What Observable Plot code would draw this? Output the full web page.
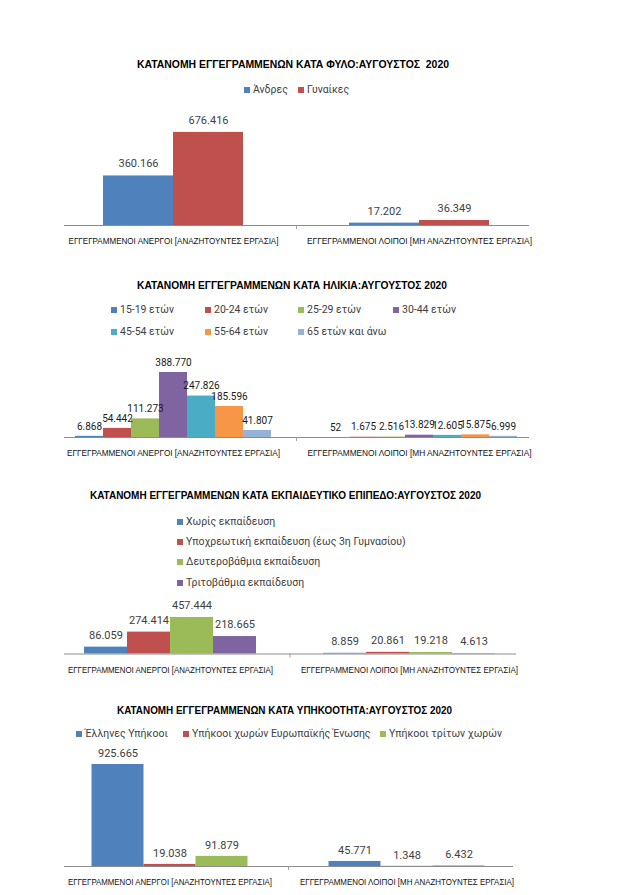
<!DOCTYPE html>
<html><head><meta charset="utf-8">
<script src="https://cdn.jsdelivr.net/npm/d3@7"></script>
<script src="https://cdn.jsdelivr.net/npm/@observablehq/plot@0.6"></script>
<style>
body{margin:0;background:#fff;}
#page{position:relative;width:631px;height:895px;overflow:hidden;font-family:Roboto,"Liberation Sans",sans-serif;}
.title{position:absolute;white-space:pre;font-family:"Liberation Sans",Arial,sans-serif;font-weight:bold;font-size:10.5px;color:#000;line-height:12px;transform-origin:0 50%;}
.leg{position:absolute;white-space:nowrap;font-size:10.5px;color:#404040;line-height:12px;display:flex;align-items:center;}
.sw{display:inline-block;width:6px;height:6px;margin-right:3px;}
.chart{position:absolute;left:0;}
</style></head><body><div id="page"></div>
<script>
// ---------- DATA ----------
const categories = ["ΕΓΓΕΓΡΑΜΜΕΝΟΙ ΑΝΕΡΓΟΙ [ΑΝΑΖΗΤΟΥΝΤΕΣ ΕΡΓΑΣΙΑ]", "ΕΓΓΕΓΡΑΜΜΕΝΟΙ ΛΟΙΠΟΙ [ΜΗ ΑΝΑΖΗΤΟΥΝΤΕΣ ΕΡΓΑΣΙΑ]"];

const titleGender = "ΚΑΤΑΝΟΜΗ ΕΓΓΕΓΡΑΜΜΕΝΩΝ ΚΑΤΑ ΦΥΛΟ:ΑΥΓΟΥΣΤΟΣ  2020";
const genderSeries = ["Άνδρες", "Γυναίκες"];
const genderUnemployed = [360166, 676416];
const genderOther = [17202, 36349];

const titleAge = "ΚΑΤΑΝΟΜΗ ΕΓΓΕΓΡΑΜΜΕΝΩΝ ΚΑΤΑ ΗΛΙΚΙΑ:ΑΥΓΟΥΣΤΟΣ 2020";
const ageSeries = ["15-19 ετών", "20-24 ετών", "25-29 ετών", "30-44 ετών", "45-54 ετών", "55-64 ετών", "65 ετών και άνω"];
const ageUnemployed = [6868, 54442, 111273, 388770, 247826, 185596, 41807];
const ageOther = [52, 1675, 2516, 13829, 12605, 15875, 6999];

const titleEdu = "ΚΑΤΑΝΟΜΗ ΕΓΓΕΓΡΑΜΜΕΝΩΝ ΚΑΤΑ ΕΚΠΑΙΔΕΥΤΙΚΟ ΕΠΙΠΕΔΟ:ΑΥΓΟΥΣΤΟΣ 2020";
const eduSeries = ["Χωρίς εκπαίδευση", "Υποχρεωτική εκπαίδευση (έως 3η Γυμνασίου)", "Δευτεροβάθμια εκπαίδευση", "Τριτοβάθμια εκπαίδευση"];
const eduUnemployed = [86059, 274414, 457444, 218665];
const eduOther = [8859, 20861, 19218, 4613];

const titleCit = "ΚΑΤΑΝΟΜΗ ΕΓΓΕΓΡΑΜΜΕΝΩΝ ΚΑΤΑ ΥΠΗΚΟΟΤΗΤΑ:ΑΥΓΟΥΣΤΟΣ 2020";
const citSeries = ["Έλληνες Υπήκοοι", "Υπήκοοι χωρών Ευρωπαϊκής Ένωσης", "Υπήκοοι τρίτων χωρών"];
const citUnemployed = [925665, 19038, 91879];
const citOther = [45771, 1348, 6432];

// ---------- STYLE / LAYOUT ----------
const palette = ["#4F81BD", "#C0504D", "#9BBB59", "#8064A2", "#4BACC6", "#F79646", "#95B3D7"];
const fmt = d3.formatLocale({decimal: ",", thousands: ".", grouping: [3], currency: ["", "€"]}).format(",d");

const charts = [
  {title: titleGender, series: genderSeries, a: genderUnemployed, b: genderOther,
   L: {titleY: 64, titleC: 293, titleW: 312,
       legend: [[244, 90], [298, 90]],
       svgTop: 99, marginTop: 10, frameH: 116, ymax: 843000, marginBottom: 32,
       left: 64, right: 528, fxPad: 0.114, xPad: 0.546,
       labelDy: -12, labelSize: 11, labelColor: "#404040", catW: [210, 225], catSize: 9.5}},
  {title: titleAge, series: ageSeries, a: ageUnemployed, b: ageOther,
   L: {titleY: 285, titleC: 292, titleW: 310,
       legend: [[111, 310], [205, 310], [298, 310], [393, 310], [111, 332], [205, 332], [298, 332]],
       svgTop: 345, marginTop: 5, frameH: 87, ymax: 520300, marginBottom: 32,
       left: 64, right: 528, fxPad: 0.114, xPad: 0.26,
       labelDy: -10, labelSize: 10, labelColor: "#1a1a1a", catW: [213, 224], catSize: 9.5}},
  {title: titleEdu, series: eduSeries, a: eduUnemployed, b: eduOther,
   L: {titleY: 495, titleC: 285.5, titleW: 391,
       legend: [[177, 522], [177, 542], [177, 562], [177, 583]],
       svgTop: 590, marginTop: 5, frameH: 58.5, ymax: 733000, marginBottom: 32,
       left: 64, right: 515, fxPad: 0.113, xPad: 0.437,
       labelDy: -12, labelSize: 11, labelColor: "#404040", catW: [205, 217], catSize: 9.5}},
  {title: titleCit, series: citSeries, a: citUnemployed, b: citOther,
   L: {titleY: 710, titleC: 284.5, titleW: 335,
       legend: [[76, 734], [183, 734], [380, 734]],
       svgTop: 740, marginTop: 5, frameH: 121, ymax: 1098000, marginBottom: 29,
       left: 63.5, right: 513, fxPad: 0.111, xPad: 0.496,
       labelDy: -11, labelSize: 11, labelColor: "#404040", catW: [204, 214], catSize: 9.5}}
];

const page = document.getElementById("page");

for (const c of charts) {
  const L = c.L;
  const data = [];
  c.series.forEach((s, i) => {
    data.push({cat: categories[0], s, v: c.a[i]});
    data.push({cat: categories[1], s, v: c.b[i]});
  });
  const colors = palette.slice(0, c.series.length);

  const plot = Plot.plot({
    width: 631,
    height: L.marginTop + L.frameH + L.marginBottom,
    marginLeft: L.left, marginRight: 631 - L.right,
    marginTop: L.marginTop, marginBottom: L.marginBottom,
    style: {fontFamily: "'Liberation Sans', Arial, sans-serif", fontSize: L.catSize + "px", color: "#111", background: "transparent", overflow: "visible"},
    fx: {domain: categories, paddingInner: L.fxPad, paddingOuter: 0, label: null, axis: "bottom", tickSize: 0, tickPadding: 12},
    x: {domain: c.series, paddingInner: 0, paddingOuter: L.xPad, axis: null},
    y: {domain: [0, L.ymax], axis: null},
    color: {domain: c.series, range: colors},
    marks: [
      Plot.barY(data, {fx: "cat", x: "s", y: "v", fill: "s"}),
      Plot.text(data, {fx: "cat", x: "s", y: "v", text: d => fmt(d.v), dy: L.labelDy,
        fontSize: L.labelSize, fill: L.labelColor, fontFamily: "Roboto, sans-serif"}),
      Plot.frame({anchor: "bottom", facet: "super", stroke: "#8c8c8c"}),
      Plot.ruleX([0], {x: null, insetTop: L.frameH, insetBottom: -4, facet: "super", stroke: "#a0a0a0"})
    ]
  });
  plot.classList.add("chart");
  plot.style.top = L.svgTop + "px";
  plot.querySelectorAll('g[aria-label="fx-axis tick label"] text').forEach((t, i) => {
    t.setAttribute("textLength", L.catW[i]);
    t.setAttribute("lengthAdjust", "spacingAndGlyphs");
  });
  page.appendChild(plot);

  // title
  const t = document.createElement("div");
  t.className = "title";
  t.textContent = c.title;
  page.appendChild(t);
  const w = t.getBoundingClientRect().width;
  t.style.left = (L.titleC - L.titleW / 2) + "px";
  t.style.top = (L.titleY - 6) + "px";
  t.style.transform = `scaleX(${L.titleW / w})`;

  // legend
  const range = plot.scale("color").range;
  c.series.forEach((s, i) => {
    const item = document.createElement("div");
    item.className = "leg";
    item.style.left = L.legend[i][0] + "px";
    item.style.top = (L.legend[i][1] - 6) + "px";
    const sw = document.createElement("span");
    sw.className = "sw";
    sw.style.background = range[i];
    item.appendChild(sw);
    item.appendChild(document.createTextNode(s));
    page.appendChild(item);
  });
}
</script></body></html>
